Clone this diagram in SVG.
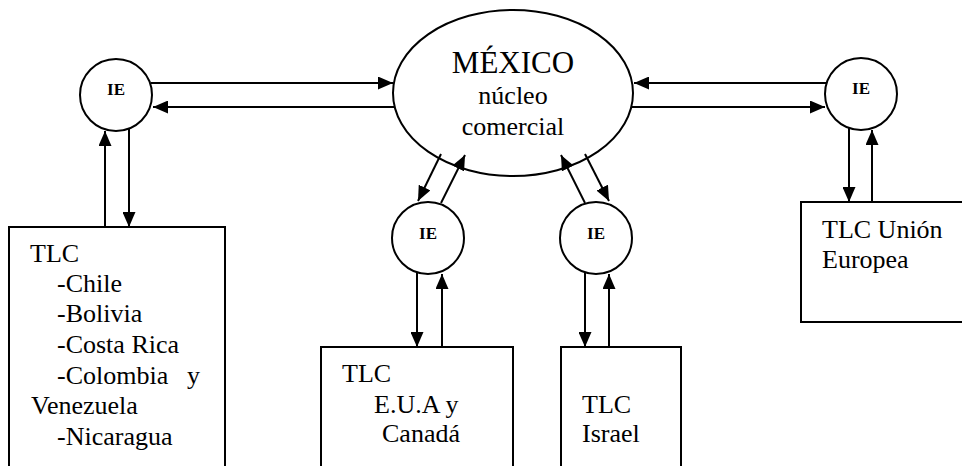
<svg xmlns="http://www.w3.org/2000/svg" width="962" height="466" viewBox="0 0 962 466">
<style>
.shape{fill:#fff;stroke:#000;stroke-width:2}
.t{font-family:"Liberation Serif","Times New Roman",serif;font-size:26px;fill:#000}
.big{font-size:31px}
.ie{font-family:"Liberation Serif","Times New Roman",serif;font-size:17px;font-weight:bold;fill:#000;text-anchor:middle}
.c{stroke:#000;stroke-width:2;fill:none;marker-end:url(#ah)}
</style>
<defs>
<marker id="ah" markerUnits="userSpaceOnUse" markerWidth="15" markerHeight="13" refX="15" refY="6.5" orient="auto">
<path d="M0,0 L15,6.5 L0,13 z" fill="#000"/>
</marker>
</defs>
<rect width="962" height="466" fill="#fff"/>
<g id="mexico">
<ellipse class="shape" cx="513" cy="93" rx="120" ry="83"/>
<text class="t big" x="513" y="73" text-anchor="middle">MÉXICO</text>
<text class="t" x="513" y="104" text-anchor="middle">núcleo</text>
<text class="t" x="513" y="135" text-anchor="middle">comercial</text>
</g>
<g id="ie-left">
<circle class="shape" cx="116" cy="95" r="36"/>
<text class="ie" x="116" y="95">IE</text>
</g>
<g id="ie-right">
<circle class="shape" cx="861" cy="94" r="36"/>
<text class="ie" x="861" y="94">IE</text>
</g>
<g id="ie-mid-left">
<circle class="shape" cx="428" cy="238" r="36"/>
<text class="ie" x="428" y="239">IE</text>
</g>
<g id="ie-mid-right">
<circle class="shape" cx="596" cy="238" r="36"/>
<text class="ie" x="596" y="239">IE</text>
</g>
<g id="box-latam">
<rect class="shape" x="9" y="227" width="216" height="260"/>
<text class="t" x="30" y="262">TLC</text>
<text class="t" x="57" y="292">-Chile</text>
<text class="t" x="57" y="322">-Bolivia</text>
<text class="t" x="57" y="353">-Costa Rica</text>
<text class="t" x="57" y="384">-Colombia</text>
<text class="t" x="187" y="384">y</text>
<text class="t" x="31" y="414">Venezuela</text>
<text class="t" x="57" y="445">-Nicaragua</text>
</g>
<g id="box-eua">
<rect class="shape" x="321" y="347" width="192" height="140"/>
<text class="t" x="342" y="382">TLC</text>
<text class="t" x="374" y="413">E.U.A y</text>
<text class="t" x="382" y="442">Canadá</text>
</g>
<g id="box-israel">
<rect class="shape" x="561" y="347" width="120" height="140"/>
<text class="t" x="582" y="413">TLC</text>
<text class="t" x="582" y="442">Israel</text>
</g>
<g id="box-ue">
<rect class="shape" x="801" y="202" width="170" height="120"/>
<text class="t" x="822" y="238">TLC Unión</text>
<text class="t" x="822" y="268">Europea</text>
</g>
<g id="connectors">
<line class="c" x1="151" y1="83" x2="393" y2="83"/>
<line class="c" x1="394" y1="107" x2="153" y2="107"/>
<line class="c" x1="827" y1="83" x2="634" y2="83"/>
<line class="c" x1="632" y1="107" x2="825" y2="107"/>
<line class="c" x1="105" y1="227" x2="105" y2="131"/>
<line class="c" x1="129" y1="129" x2="129" y2="227"/>
<line class="c" x1="849" y1="128" x2="849" y2="202"/>
<line class="c" x1="872" y1="202" x2="872" y2="130"/>
<line class="c" x1="441" y1="154" x2="418" y2="201"/>
<line class="c" x1="441" y1="203" x2="465" y2="155"/>
<line class="c" x1="585" y1="203" x2="561" y2="155"/>
<line class="c" x1="585" y1="154" x2="609" y2="201"/>
<line class="c" x1="417" y1="272" x2="417" y2="347"/>
<line class="c" x1="442" y1="347" x2="442" y2="274"/>
<line class="c" x1="585" y1="272" x2="585" y2="347"/>
<line class="c" x1="609" y1="347" x2="609" y2="274"/>
</g>
</svg>
